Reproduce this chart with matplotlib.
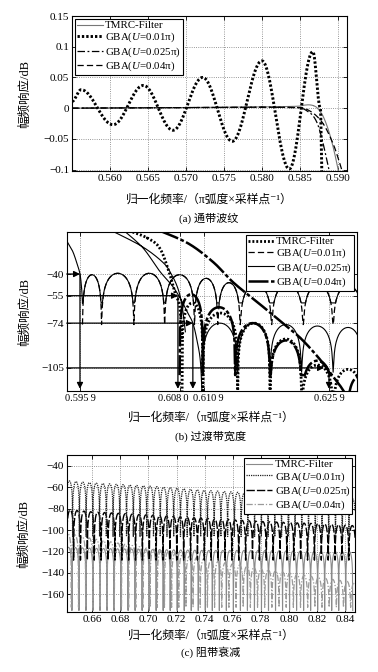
import numpy as np
import matplotlib
matplotlib.use("Agg")
import matplotlib.pyplot as plt
from matplotlib.transforms import ScaledTranslation

plt.rcParams['font.family'] = ['Liberation Serif', 'Noto Sans CJK SC', 'DejaVu Sans']
plt.rcParams['mathtext.fontset'] = 'custom'
plt.rcParams['mathtext.rm'] = 'Liberation Serif'
plt.rcParams['mathtext.it'] = 'Liberation Serif:italic'

# ---------------- (a) passband ripple ----------------
a_ripple_x = [0.5550, 0.5562, 0.5604, 0.5644, 0.5683, 0.5722, 0.5761, 0.5800, 0.5836, 0.5867, 0.5877, 0.5879]
a_ripple_y = [0.011, 0.030, -0.027, 0.037, -0.036, 0.050, -0.054, 0.077, -0.099, 0.092, 0.0, -0.104]
a_tmrc_x = [0.555, 0.565, 0.575, 0.580, 0.5845, 0.5855, 0.5862, 0.5868, 0.5873, 0.5880, 0.5886, 0.5891, 0.5896, 0.5901]
a_tmrc_y = [0.0, 0.0005, 0.0015, 0.002, 0.003, 0.0048, 0.0054, 0.004, 0.0, -0.012, -0.030, -0.050, -0.075, -0.104]
a_u025_x = [0.555, 0.570, 0.580, 0.584, 0.5852, 0.5860, 0.5867, 0.5873, 0.5878, 0.5882, 0.5886, 0.5889]
a_u025_y = [0.0, 0.001, 0.0015, 0.001, 0.0, -0.005, -0.012, -0.025, -0.045, -0.065, -0.088, -0.104]
a_u04_x = [0.555, 0.570, 0.580, 0.5845, 0.5855, 0.5865, 0.5873, 0.5881, 0.5888, 0.5895, 0.5900, 0.5906]
a_u04_y = [0.0, 0.001, 0.0015, 0.001, 0.0, -0.006, -0.014, -0.026, -0.042, -0.062, -0.080, -0.104]
a_xticks = [0.560, 0.565, 0.570, 0.575, 0.580, 0.585, 0.590]
a_yticks = [-0.1, -0.05, 0, 0.05, 0.1, 0.15]
a_ytick_labels = ['\u22120.1', '\u22120.05', '0', '0.05', '0.1', '0.15']

# ---------------- (b) transition band ----------------
b_ml1_x = [0.5943, 0.5950, 0.5955, 0.5959, 0.5961, 0.5962]
b_ml1_y = [-17, -24, -32, -40, -50, -60]
b_la_nulls = [0.5962, 0.5985, 0.6024, 0.6061, 0.6097, 0.6125, 0.6152, 0.6190, 0.6228, 0.6264, 0.6300]
b_la_peaks = [-40.5, -39.5, -39.5, -40.5, -43, -46, -47, -47, -47.5, -48]
b_ml2_x = [0.5997, 0.6034, 0.6059, 0.6069, 0.6077, 0.6082, 0.6086]
b_ml2_y = [-10, -21, -32, -40, -50, -62, -80]
b_ml3_x = [0.6012, 0.6035, 0.6055, 0.6070, 0.6080, 0.6088, 0.6095, 0.6100, 0.6104, 0.6106]
b_ml3_y = [-10, -22, -38, -48, -57, -66, -74, -86, -100, -122]
b_lc_nulls = [0.6106, 0.6149, 0.6188, 0.6226, 0.6264, 0.6300]
b_lc_peaks = [-74, -74, -75, -76, -77]
b_ml4_x = [0.6018, 0.6040, 0.6055, 0.6066, 0.6074, 0.6079, 0.6082]
b_ml4_y = [-10, -15, -22, -38, -54, -62, -85]
b_lt_nulls = [0.6082, 0.6107, 0.6149, 0.6188, 0.6226, 0.6264, 0.6300]
b_lt_peaks = [-60, -67, -74, -85, -103, -106]
b_ml5_x = [0.6055, 0.6090, 0.6120, 0.6144, 0.6176, 0.6203, 0.6224, 0.6245, 0.6260, 0.6272, 0.6281]
b_ml5_y = [-10, -19, -32, -46, -61, -74, -84, -97, -108, -117, -125]
b_ld_nulls = [0.6079, 0.6107, 0.6146, 0.6188, 0.6226, 0.6264]
b_ld_peaks = [-54, -63, -74, -86, -100]
b_le_nulls = [0.6281, 0.6310]
b_le_peaks = [-111]
b_levels = [-40, -55, -74, -105]
b_arrow_x = [0.5959, 0.6077, 0.6095, 0.6253]
b_drop_x = [0.5959, 0.6077, 0.6095, 0.6259]
b_drop_top = [-40, -55, -74, -108]
b_xticks = [0.5959, 0.6080, 0.6109, 0.6259]
b_xtick_labels = ['0.595\u20099', '0.608\u20090', '0.610\u20099', '0.625\u20099']
b_xtick_shift = [0, -5, 3, 0]   # label nudges in points, as in the reference

# ---------------- (c) stopband attenuation ----------------
c_env_x = [0.642, 0.66, 0.70, 0.74, 0.78, 0.82, 0.848]
c_u01_peak = [-54, -56, -59, -63, -66, -69, -71]
c_u025_peak = [-81, -83, -86, -89, -92, -94, -96]
c_u04_peak = [-103, -108, -117, -127, -136, -144, -149]
c_tmrc_peak = [-116, -117, -118, -119, -119, -120, -120]
c_xticks = [0.66, 0.68, 0.70, 0.72, 0.74, 0.76, 0.78, 0.80, 0.82, 0.84]
c_yticks = [-160, -140, -120, -100, -80, -60, -40]

labels = ['TMRC-Filter', 'GBA($U$=0.01\u03c0)', 'GBA($U$=0.025\u03c0)', 'GBA($U$=0.04\u03c0)']


def cos_path(xe, ye, n=40):
    xs, ys = [], []
    for i in range(len(xe) - 1):
        t = np.linspace(0, 1, n)
        xs.append(xe[i] + (xe[i + 1] - xe[i]) * t)
        ys.append(ye[i] + (ye[i + 1] - ye[i]) * (1 - np.cos(np.pi * t)) / 2)
    return np.concatenate(xs), np.concatenate(ys)


def spline(xp, yp, n=20):
    P = np.column_stack([xp, yp]).astype(float)
    out = []
    for i in range(len(P) - 1):
        p0 = P[i - 1] if i > 0 else P[i]
        p1, p2 = P[i], P[i + 1]
        p3 = P[i + 2] if i + 2 < len(P) else P[i + 1]
        t = np.linspace(0, 1, n)[:, None]
        out.append(0.5 * (2 * p1 + (-p0 + p2) * t + (2 * p0 - 5 * p1 + 4 * p2 - p3) * t ** 2
                          + (-p0 + 3 * p1 - 3 * p2 + p3) * t ** 3))
    out = np.vstack(out)
    return out[:, 0], out[:, 1]


def lobe_path(nulls, peaks, floor, n=50):
    xs, ys = [], []
    for a, b, p in zip(nulls[:-1], nulls[1:], peaks):
        t = np.linspace(0, 1, n)
        y = p + 20 * np.log10(np.maximum(np.abs(np.sin(np.pi * t)), 1e-9))
        xs.append(a + (b - a) * t)
        ys.append(np.maximum(y, floor))
    return np.concatenate(xs), np.concatenate(ys)


def dense_lobes(peak_env, width, floor, x0, x1=0.85):
    nulls = np.arange(x0, x1, width)
    peaks = np.interp((nulls[:-1] + nulls[1:]) / 2, c_env_x, peak_env)
    return lobe_path(nulls, peaks, floor, n=24)


def join(*parts):
    xs, ys = [], []
    for x, y in parts:
        xs += [np.asarray(x), [np.nan]]
        ys += [np.asarray(y), [np.nan]]
    return np.concatenate(xs), np.concatenate(ys)


def style(ax):
    ax.tick_params(direction='in', length=3, width=0.6, labelsize=8, top=True, right=True, pad=2)
    ax.grid(True, linestyle=':', linewidth=0.6, color='#777777')
    for s in ax.spines.values():
        s.set_linewidth(0.8)


def legend(ax, handles, loc):
    leg = ax.legend(handles, labels, loc=loc, fontsize=7.8, frameon=True, fancybox=False,
                    edgecolor='black', framealpha=1, borderpad=0.2, labelspacing=0.05,
                    handlelength=2.4, handletextpad=0.2, borderaxespad=0.25)
    leg.get_frame().set_linewidth(0.8)
    return leg


W, H = 378, 672
fig = plt.figure(figsize=(W / 100, H / 100), dpi=100)


def px_axes(l, t, r, b):
    return fig.add_axes([l / W, 1 - b / H, (r - l) / W, (b - t) / H])


def px_text(x, y, s, size=8.5):
    fig.text(x / W, 1 - y / H, s, ha='center', va='center', fontsize=size)


xlab = '归一化频率/（π弧度×采样点⁻¹）'

# ---------------- panel (a) ----------------
ax = px_axes(72, 16, 347, 171)
h_tmrc, = ax.plot(*spline(a_tmrc_x, a_tmrc_y), color='#777777', lw=0.8)
h01, = ax.plot(*cos_path(a_ripple_x, a_ripple_y), color='black', lw=2.1, linestyle=(0, (0.8, 0.7)))
h025, = ax.plot(*spline(a_u025_x, a_u025_y), color='black', lw=0.9, linestyle=(0, (6, 2, 1.5, 2)))
h04, = ax.plot(*spline(a_u04_x, a_u04_y), color='black', lw=0.9, linestyle=(0, (5, 2.5)))
ax.set_xlim(0.555, 0.5912)
ax.set_ylim(-0.1023, 0.15)
ax.set_xticks(a_xticks)
ax.set_xticklabels([f'{v:.3f}' for v in a_xticks])
ax.set_yticks(a_yticks)
ax.set_yticklabels(a_ytick_labels)
style(ax)
legend(ax, [h_tmrc, h01, h025, h04], 'upper left')
ax.set_ylabel('幅频响应/dB', fontsize=9)
ax.yaxis.set_label_coords((31 - 72) / 275, 0.5)
px_text(209, 200, xlab)
px_text(209, 218, '(a) 通带波纹', 8)

# ---------------- panel (b) ----------------
ax = px_axes(66.7, 232, 356.7, 391)
thin = join(spline(b_ml1_x, b_ml1_y), lobe_path(b_la_nulls, b_la_peaks, -60),
            spline(b_ml2_x, b_ml2_y), spline(b_ml3_x, b_ml3_y), lobe_path(b_lc_nulls, b_lc_peaks, -108))
dashed = join(lobe_path(b_la_nulls, b_la_peaks, -75))
dotted = join(spline(b_ml4_x, b_ml4_y), lobe_path(b_lt_nulls, b_lt_peaks, -122))
dashdot = join(spline(b_ml5_x, b_ml5_y), lobe_path(b_le_nulls, b_le_peaks, -125),
               lobe_path(b_ld_nulls, b_ld_peaks, -110))
h_tmrc, = ax.plot(*dotted, color='black', lw=2.0, linestyle=(0, (0.7, 0.7)))
h01, = ax.plot(*dashed, color='black', lw=0.9, linestyle=(0, (5, 2.5)))
h025, = ax.plot(*thin, color='black', lw=0.8)
h04, = ax.plot(*dashdot, color='black', lw=1.8, linestyle=(0, (8, 1, 1.5, 1)))
x_left = 0.5943
for lev, xa, xd, yt in zip(b_levels, b_arrow_x, b_drop_x, b_drop_top):
    ax.annotate('', xy=(xa, lev), xytext=(x_left, lev),
                arrowprops=dict(arrowstyle='-|>', color='black', lw=0.9, mutation_scale=9,
                                shrinkA=0, shrinkB=0))
    ax.annotate('', xy=(xd, -119.5), xytext=(xd, yt),
                arrowprops=dict(arrowstyle='-|>', color='black', lw=0.9, mutation_scale=9,
                                shrinkA=0, shrinkB=0))
ax.set_xlim(x_left, 0.62924)
ax.set_ylim(-121, -10.9)
ax.set_xticks(b_xticks)
ax.set_xticklabels(b_xtick_labels)
ax.set_yticks(b_levels)
ax.set_yticklabels(['\u2212' + str(-v) for v in b_levels])
style(ax)
ax.tick_params(axis='x', labelsize=7.5)
for lab, dx in zip(ax.get_xticklabels(), b_xtick_shift):
    lab.set_transform(lab.get_transform() + ScaledTranslation(dx / 72, 0, fig.dpi_scale_trans))
legend(ax, [h_tmrc, h01, h025, h04], 'upper right')
ax.set_ylabel('幅频响应/dB', fontsize=9)
ax.yaxis.set_label_coords((31 - 66.7) / 290, 0.5)
px_text(211, 418, xlab)
px_text(211, 436, '(b) 过渡带宽度', 8)

# ---------------- panel (c) ----------------
ax = px_axes(67, 455, 355, 612)
h_tmrc, = ax.plot(*dense_lobes(c_tmrc_peak, 0.0050, -175, 0.6405), color='#8a8a8a', lw=0.8)
h04, = ax.plot(*dense_lobes(c_u04_peak, 0.0051, -172, 0.6400), color='#9a9a9a', lw=0.9,
               linestyle=(0, (5, 1.5, 1, 1.5)))
h025, = ax.plot(*dense_lobes(c_u025_peak, 0.0049, -128, 0.6418), color='black', lw=1.0,
                linestyle=(0, (6, 1.5)))
h01, = ax.plot(*dense_lobes(c_u01_peak, 0.0048, -106, 0.6412), color='#222222', lw=0.9,
               linestyle=(0, (1, 0.8)))
ax.set_xlim(0.642, 0.8471)
ax.set_ylim(-176.4, -30)
ax.set_xticks(c_xticks)
ax.set_xticklabels([f'{v:.2f}' for v in c_xticks])
ax.set_yticks(c_yticks)
ax.set_yticklabels(['\u2212' + str(-v) for v in c_yticks])
style(ax)
legend(ax, [h_tmrc, h01, h025, h04], 'upper right')
ax.set_ylabel('幅频响应/dB', fontsize=9)
ax.yaxis.set_label_coords((30 - 67) / 288, 0.5)
px_text(211, 636, xlab)
px_text(211, 652, '(c) 阻带衰减', 8)

fig.savefig('out.png', dpi=100, facecolor='white')
